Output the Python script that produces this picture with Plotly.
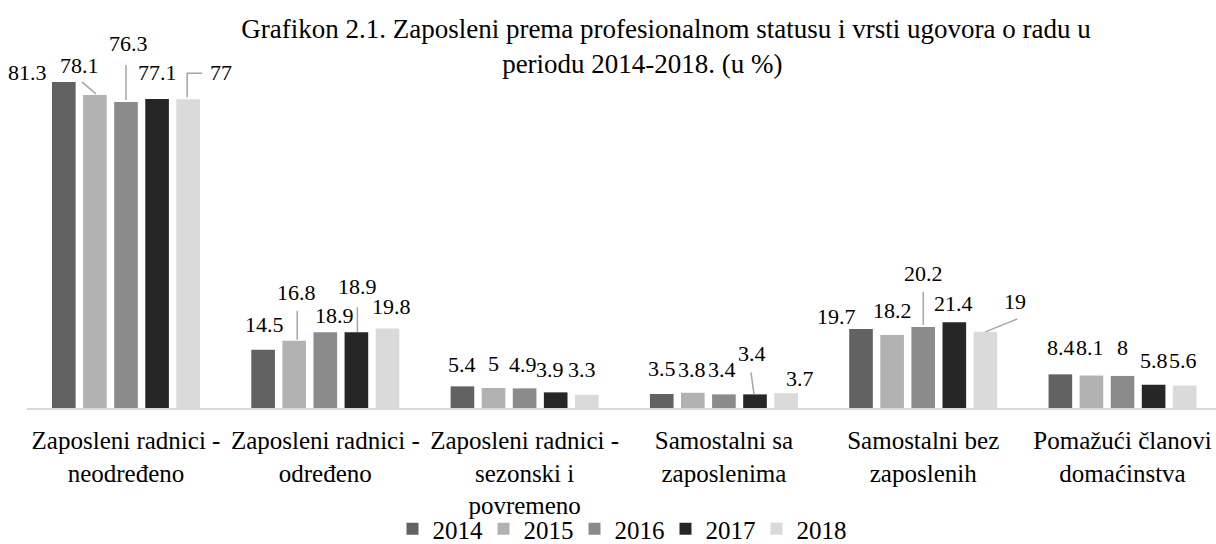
import plotly.graph_objects as go

# ---------------- data ----------------
categories = [
    "Zaposleni radnici -<br>neodređeno",
    "Zaposleni radnici -<br>određeno",
    "Zaposleni radnici -<br>sezonski i<br>povremeno",
    "Samostalni sa<br>zaposlenima",
    "Samostalni bez<br>zaposlenih",
    "Pomažući članovi<br>domaćinstva",
]
years = ["2014", "2015", "2016", "2017", "2018"]
v2014 = [81.3, 14.5, 5.4, 3.5, 19.7, 8.4]
v2015 = [78.1, 16.8, 5.0, 3.8, 18.2, 8.1]
v2016 = [76.3, 18.9, 4.9, 3.4, 20.2, 8.0]
v2017 = [77.1, 18.9, 3.9, 3.4, 21.4, 5.8]
v2018 = [77.0, 19.8, 3.3, 3.7, 19.0, 5.6]
series = [v2014, v2015, v2016, v2017, v2018]
colors = ["#626262", "#b2b2b2", "#8b8b8b", "#262626", "#dadada"]

title_line1 = "Grafikon 2.1. Zaposleni prema profesionalnom statusu i vrsti ugovora o radu u"
title_line2 = "periodu 2014-2018. (u %)"

# ---------------- style / layout ----------------
FONT = "Liberation Serif, Times New Roman, serif"
BARGAP = 0.22
BARGROUPGAP = 0.24
n_series = len(series)
slot = (1 - BARGAP) / n_series
VCORR = 0  # vertical correction for label text centre

# label displacement (px right, px up) from the bar top centre, as placed in the source chart
label_shift = {
    (0, 0): (-36, 10), (1, 0): (-15, 29), (2, 0): (2, 59), (3, 0): (0, 26), (4, 0): (33, 27),
    (0, 1): (1, 25), (1, 1): (2, 48), (2, 1): (9, 17), (3, 1): (1, 46), (4, 1): (4, 22),
    (0, 2): (0, 22), (1, 2): (0, 24), (2, 2): (-2, 24), (3, 2): (-6, 23), (4, 2): (-5, 25),
    (0, 3): (0, 25), (1, 3): (-1, 23), (2, 3): (-2, 25), (3, 3): (-3, 41), (4, 3): (14, 15),
    (0, 4): (-25, 13), (1, 4): (0, 25), (2, 4): (0, 54), (3, 4): (-1, 19), (4, 4): (30, 30),
    (0, 5): (1, 27), (1, 5): (-1, 28), (2, 5): (0, 28), (3, 5): (0, 24), (4, 5): (-2, 25),
}
# leader lines (pixel paths relative to the bar top centre, y up)
leaders = {
    (1, 0): "M-13,13L1,1",
    (2, 0): "M0,37L0,2",
    (4, 0): "M-1,2L-1,26L14,26",
    (1, 1): "M3,30L3,1",
    (3, 1): "M1,25L1,0",
    (3, 3): "M-4,22L-1,0",
    (2, 4): "M0,35L0,2",
    (4, 4): "M0,0L32,13",
}

xs = list(range(len(categories)))

fig = go.Figure()
for i, (yr, vals, col) in enumerate(zip(years, series, colors)):
    fig.add_trace(go.Bar(
        x=xs, y=vals, name=yr, marker=dict(color=col, line=dict(width=0)),
        hoverinfo="y+name",
    ))

annotations = []
shapes = []
for i, vals in enumerate(series):
    off = (i - (n_series - 1) / 2) * slot
    for k, v in enumerate(vals):
        dx, up = label_shift.get((i, k), (0, 24))
        annotations.append(dict(
            x=k + off, y=v, xref="x", yref="y", text=f"{v:g}", showarrow=False,
            xshift=dx, yshift=up + VCORR, xanchor="center", yanchor="middle",
            font=dict(family=FONT, size=22, color="#000000"),
        ))
        if (i, k) in leaders:
            shapes.append(dict(
                type="path", xref="x", yref="y", xsizemode="pixel", ysizemode="pixel",
                xanchor=k + off, yanchor=v, path=leaders[(i, k)],
                line=dict(color="#a6a6a6", width=1.5), layer="above",
            ))

fig.update_layout(
    template="none",
    width=1216, height=544,
    paper_bgcolor="white", plot_bgcolor="white",
    margin=dict(l=27, r=0, t=48, b=136, pad=0, autoexpand=False),
    barmode="group", bargap=BARGAP, bargroupgap=BARGROUPGAP,
    font=dict(family=FONT, color="#000000"),
    title=dict(
        text=title_line1 + "<br>" + title_line2 + "&nbsp;" * 7,
        x=666 / 1216, xref="container", xanchor="center",
        y=1 - 38 / 544, yref="container", yanchor="top",
        font=dict(family=FONT, size=27, color="#000000"),
    ),
    xaxis=dict(
        type="linear", tickmode="array", tickvals=xs, ticktext=categories,
        range=[-0.4967, 5.469], showgrid=False, zeroline=False, automargin=False,
        showline=True, linecolor="#d9d9d9", linewidth=2, ticks="",
        tickfont=dict(family=FONT, size=25, color="#000000"),
        ticklabelstandoff=9, fixedrange=True,
    ),
    yaxis=dict(range=[0, 89.8], visible=False, showgrid=False, zeroline=False,
               automargin=False, fixedrange=True),
    legend=dict(
        orientation="h", xref="container", yref="container",
        x=620 / 1216, xanchor="center", y=(544 - 529) / 544, yanchor="middle",
        entrywidth=46, entrywidthmode="pixels",
        font=dict(family=FONT, size=25, color="#000000"),
        bgcolor="rgba(0,0,0,0)", itemclick=False, itemdoubleclick=False,
    ),
    annotations=annotations,
    shapes=shapes,
    showlegend=True,
)

fig.write_html("out.html", config={"displayModeBar": False},
               post_script="document.body.style.margin='0';")
